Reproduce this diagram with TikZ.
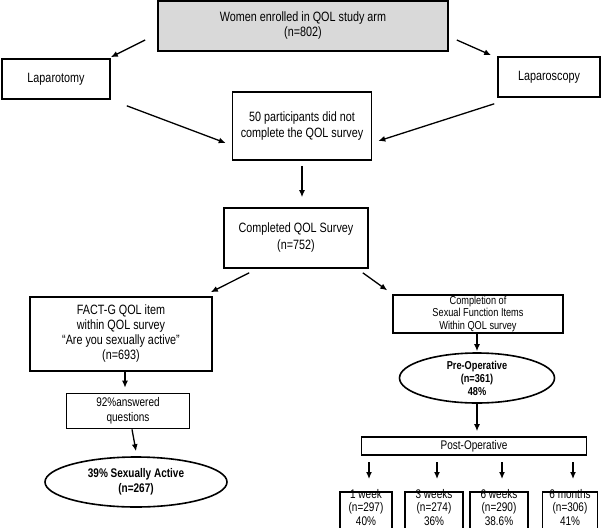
\documentclass[tikz,border=0pt]{standalone}
\usepackage{fontspec}
\setmainfont{Liberation Sans}[FakeStretch=0.8]
\usetikzlibrary{shapes.geometric,arrows.meta,calc}
\begin{document}
\begin{tikzpicture}[x=1pt,y=-1pt,
  box/.style={draw,line width=1.6pt,rectangle,align=center,inner sep=1pt,font=\fontsize{13.5}{16}\selectfont},
  oval/.style={draw,line width=1.6pt,ellipse,align=center,inner sep=0pt,font=\bfseries\fontsize{12.5}{14.5}\selectfont},
  arr/.style={line width=1.3pt,-{Latex[length=7pt,width=6pt]}},
  small/.style={font=\fontsize{12.5}{13.5}\selectfont}]
\useasboundingbox (0,0) rectangle (601,527);
\begin{scope}
\clip (0,0) rectangle (601,527);
\node[box,fill=gray!30,minimum width=290,minimum height=50,font=\fontsize{13.5}{15}\selectfont] (top) at (303,26) {Women enrolled  in QOL study arm\\(n=802)};
\node[box,minimum width=108,minimum height=40] (lapt) at (56,79) {Laparotomy};
\node[box,minimum width=102,minimum height=40] (laps) at (549,77) {Laparoscopy};
\node[box,minimum width=139,minimum height=68] (nocomp) at (302,126) {50 participants did not\\complete the QOL survey};
\node[box,minimum width=144,minimum height=60,font=\fontsize{13.5}{17}\selectfont] (comp) at (296,238) {Completed QOL Survey\\(n=752)};
\node[box,minimum width=182,minimum height=74,font=\fontsize{13.5}{15}\selectfont] (fact) at (121,334) {FACT-G QOL item\\within QOL survey\\``Are you sexually active''\\(n=693)};
\node[box,minimum width=123,minimum height=35,font=\fontsize{12.5}{15}\selectfont] (ans) at (128,411) {92\%answered\\questions};
\node[oval,minimum width=182,minimum height=50] (sex) at (136,482) {39\% Sexually Active\\(n=267)};
\node[box,minimum width=170,minimum height=37,font=\fontsize{11.5}{12.5}\selectfont] (sfi) at (478,314) {Completion of\\Sexual Function Items\\Within QOL survey};
\node[oval,minimum width=155,minimum height=50,font=\bfseries\fontsize{11.5}{13}\selectfont] (pre) at (477,378) {Pre-Operative\\(n=361)\\48\%};
\node[box,minimum width=225,minimum height=18,font=\fontsize{12.5}{13}\selectfont] (post) at (474,446) {Post-Operative};
\node[box,small,minimum width=52,minimum height=50,anchor=north] (w1) at (366,491) {};
\node[box,small,minimum width=58,minimum height=50,anchor=north] (w3) at (434,491) {};
\node[box,small,minimum width=58,minimum height=50,anchor=north] (w6) at (499,491) {};
\node[box,small,minimum width=55,minimum height=50,anchor=north] (m6) at (570,491) {};
\node[small,align=center,anchor=north,inner sep=0pt] (t1) at ($(w1.north)+(0,-2)$) {1 week\\(n=297)\\40\%};
\node[small,align=center,anchor=north,inner sep=0pt] (t3) at ($(w3.north)+(0,-2)$) {3 weeks\\(n=274)\\36\%};
\node[small,align=center,anchor=north,inner sep=0pt] (t6) at ($(w6.north)+(0,-2)$) {6 weeks\\(n=290)\\38.6\%};
\node[small,align=center,anchor=north,inner sep=0pt] (tm) at ($(m6.north)+(0,-2)$) {6 months\\(n=306)\\41\%};
\end{scope}
\draw[arr] ($(top.west)+(-12,14)$) -- ($(lapt.north east)+(0,-1)$);
\draw[arr] ($(top.east)+(8,14)$) -- ($(laps.north west)+(-6,-1)$);
\draw[arr] ($(lapt.south east)+(16,6)$) -- ($(nocomp.west)+(-6,17)$);
\draw[arr] ($(laps.south west)+(-3,6)$) -- ($(nocomp.east)+(6,15)$);
\draw[arr] ($(nocomp.south)+(0,5)$) -- ($(comp.north)+(6,-10)$);
\draw[arr] ($(comp.south west)+(26,4)$) -- ($(fact.north east)+(-2,-4)$);
\draw[arr] ($(comp.south east)+(-6,4)$) -- ($(sfi.north west)+(-5,-4)$);
\draw[arr] (fact.south) ++(4,0) -- ($(ans.north)+(-3,-5)$);
\draw[arr] (ans.south) ++(4,0) -- ($(sex.north)+(0,-5)$);
\draw[arr] (sfi.south) ++(-1,0) -- ($(pre.north)+(0,-1)$);
\draw[arr] (pre.south) -- ($(post.north)+(3,-5)$);
\foreach \b in {w1,w3,w6,m6}{
  \draw[arr] ($(\b.north)+(3,-29)$) -- ($(\b.north)+(3,-12)$);
}
\end{tikzpicture}
\end{document}
